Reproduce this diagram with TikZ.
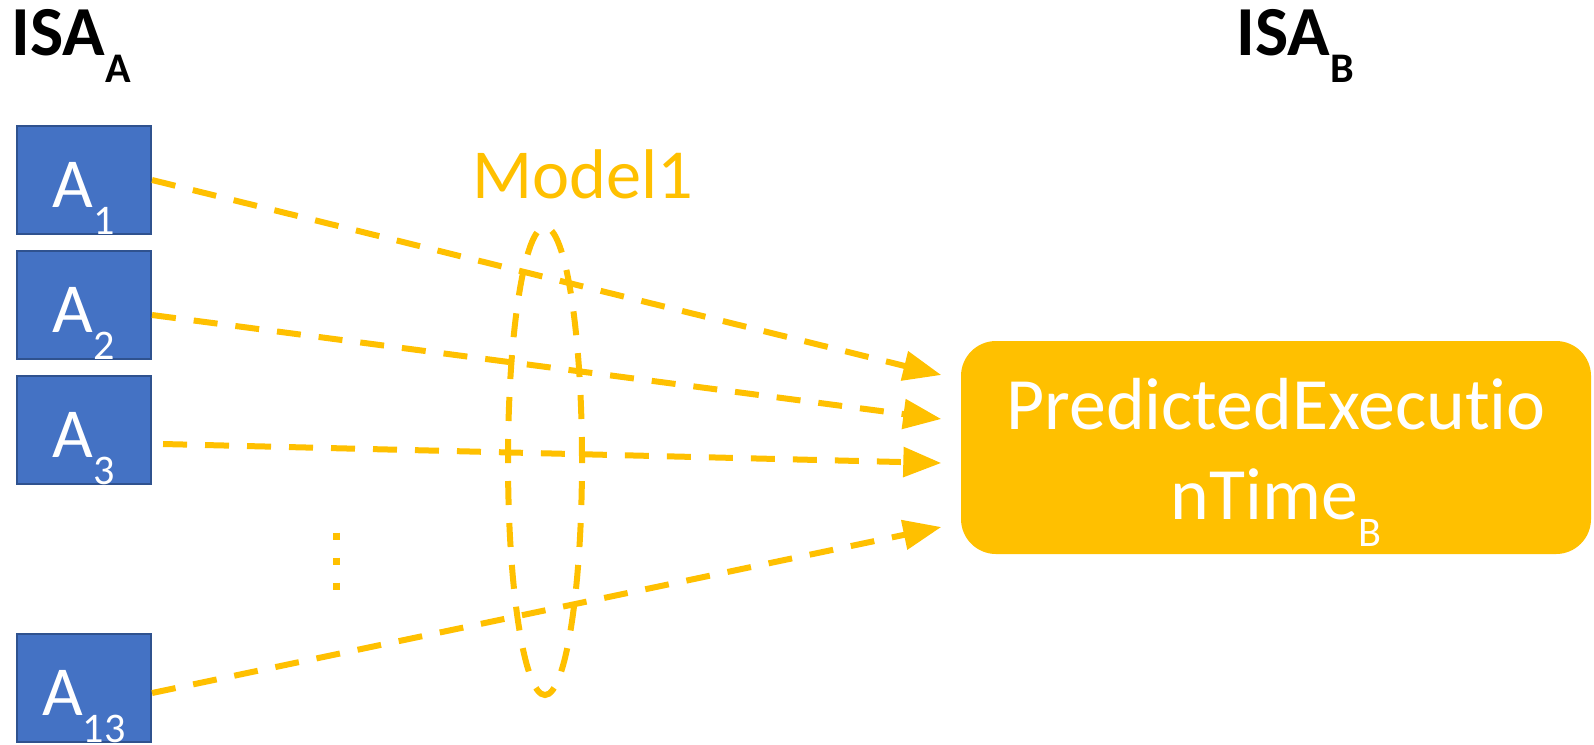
\documentclass[tikz,border=0pt]{standalone}
\usepackage{fontspec}
\setmainfont{Carlito}[Ligatures={NoCommon,NoContextual}]
\usetikzlibrary{arrows.meta}
\definecolor{gold}{HTML}{FFC000}
\definecolor{boxblue}{HTML}{4472C4}
\definecolor{boxedge}{HTML}{2F528F}
\newcommand{\lowidx}[1]{{\fontsize{12}{12}\selectfont\raisebox{-0.27cm}{#1}}}

\tikzset{
  abox/.style={draw=boxedge, line width=0.6pt, fill=boxblue, text=white,
    minimum width=1.34cm, minimum height=1.08cm, inner sep=0pt,
    text height=0.81cm, text depth=0.27cm, font=\fontsize{20}{24}\selectfont},
  link/.style={gold, line width=0.06cm, dash pattern=on 0.24cm off 0.18cm,
    -{Triangle[length=0.38cm,width=0.29cm]}},
  isa/.style={anchor=base west, inner sep=0pt, font=\bfseries\fontsize{20}{24}\selectfont}
}

\begin{document}
\begin{tikzpicture}
\useasboundingbox (0,0) rectangle (15.94,-7.44);

% ISA headings
\node[isa] (isaA) at (0.11,-0.55) {ISA\lowidx{A}};
\node[isa] (isaB) at (12.36,-0.55) {ISA\lowidx{B}};

% instruction boxes of ISA A
\foreach \n/\y in {1/-1.80, 2/-3.05, 3/-4.30, 13/-6.88} {
    \node[abox] (A\n) at (0.84,\y) {A\lowidx{\n}};
}

% vertical dots between A3 and A13
\draw[gold, line width=0.07cm, dash pattern=on 0.07cm off 0.18cm] (3.36,-5.325) -- (3.36,-5.895);

% predicted time on ISA B
\node[fill=gold, rounded corners=0.35cm, minimum width=6.30cm, minimum height=2.13cm,
    inner sep=0pt, text=white, align=center, font=\fontsize{21}{25.5}\selectfont,
    text height=1.71cm, text depth=0.28cm] (pred) at (12.76,-4.475)
    {PredictedExecutio\\nTime\lowidx{B}};

% model
\node[anchor=base, text=gold, font=\fontsize{20}{24}\selectfont, inner sep=0pt] (model) at (5.83,-1.98) {Model1};
\draw[gold, line width=0.06cm, dash pattern=on 0.24cm off 0.18cm] (5.45,-4.61) ellipse [x radius=0.37, y radius=2.34];

% mappings
\foreach \n/\sx/\sy/\ty in {1/0/0/0.725, 2/0/-0.1/0.285, 3/0.11/-0.14/-0.155, 13/0/-0.05/-0.795} {
    \draw[link] ([xshift=\sx cm,yshift=\sy cm]A\n.east) -- ([xshift=-0.19cm,yshift=\ty cm]pred.west);
}
\end{tikzpicture}
\end{document}
